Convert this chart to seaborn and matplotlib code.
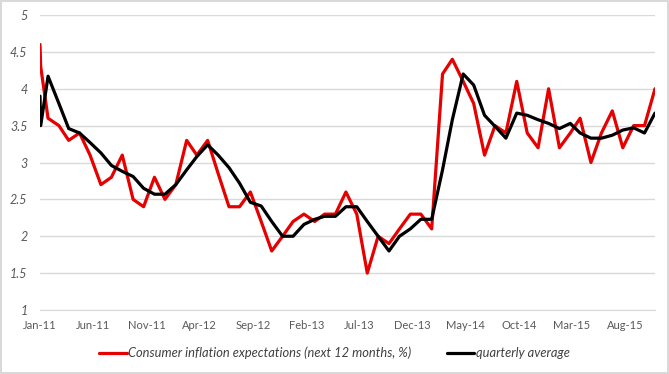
import pandas as pd
import numpy as np
import seaborn as sns
import matplotlib.pyplot as plt
import matplotlib.dates as mdates

# survey dates: two readings at the very start, then one per month
start_dates = ["2011-01-01", "2011-01-03"]
monthly_dates = pd.date_range("2011-01-01", "2015-10-01", freq="MS") + pd.Timedelta(days=23)
dates = pd.to_datetime(start_dates).append(monthly_dates)

# consumer inflation expectations (next 12 months, %)
expectations = [4.6, 4.3,
                3.6, 3.5, 3.3, 3.4, 3.1, 2.7, 2.8, 3.1, 2.5, 2.4, 2.8, 2.5,
                2.7, 3.3, 3.1, 3.3, 2.85, 2.4, 2.4, 2.6, 2.2, 1.8, 2.0, 2.2,
                2.3, 2.2, 2.3, 2.3, 2.6, 2.3, 1.5, 2.0, 1.9, 2.1, 2.3, 2.3,
                2.1, 4.2, 4.4, 4.1, 3.8, 3.1, 3.5, 3.4, 4.1, 3.4, 3.2, 4.0,
                3.2, 3.4, 3.6, 3.0, 3.4, 3.7, 3.2, 3.5, 3.5, 4.0]

# quarterly average
quarterly = [3.9, 3.5,
             4.17, 3.8, 3.46, 3.4, 3.27, 3.13, 2.96, 2.88, 2.81, 2.65, 2.57, 2.57,
             2.7, 2.9, 3.08, 3.24, 3.1, 2.93, 2.72, 2.46, 2.41, 2.2, 2.0, 2.0,
             2.16, 2.23, 2.27, 2.27, 2.4, 2.4, 2.2, 2.0, 1.8, 2.0, 2.1, 2.23,
             2.23, 2.9, 3.58, 4.2, 4.05, 3.64, 3.49, 3.33, 3.67, 3.64, 3.58, 3.53,
             3.46, 3.53, 3.4, 3.33, 3.33, 3.37, 3.44, 3.47, 3.4, 3.67]

tick_dates = pd.date_range("2011-01-01", "2015-08-01", freq="5MS")

df = pd.DataFrame({"date": dates, "exp": expectations, "avg": quarterly})

sns.set_style("white")
plt.rcParams["font.family"] = ["Lato", "DejaVu Sans"]

fig = plt.figure(figsize=(6.69, 3.74), dpi=100)
fig.patch.set_edgecolor("#d9d9d9")
fig.patch.set_linewidth(1.5)
ax = fig.add_axes([40 / 669, 1 - 310 / 374, 615 / 669, 295 / 374])

sns.lineplot(data=df, x="date", y="exp", ax=ax, color="#e60000", linewidth=2.3,
             label="Consumer inflation expectations (next 12 months, %)", legend=False)
sns.lineplot(data=df, x="date", y="avg", ax=ax, color="black", linewidth=2.3,
             label="quarterly average", legend=False)

ax.set_ylim(1, 5)
ax.set_yticks(np.arange(1, 5.01, 0.5))
ax.set_yticklabels([f"{v:g}" for v in np.arange(1, 5.01, 0.5)], fontstyle="italic")
ax.set_xlim(dates[0], dates[-1])
ax.set_xticks(tick_dates)
ax.xaxis.set_major_formatter(mdates.DateFormatter("%b-%y"))
ax.grid(axis="y", color="#d9d9d9", linewidth=1)
ax.set_axisbelow(True)
for s in ["top", "right", "left"]:
    ax.spines[s].set_visible(False)
ax.spines["bottom"].set_color("#d9d9d9")
ax.tick_params(axis="y", length=0, pad=9, labelsize=9, labelcolor="#595959")
ax.tick_params(axis="x", length=4, width=1, color="#d9d9d9", pad=3,
               labelsize=8, labelcolor="#595959")
ax.set_xlabel("")
ax.set_ylabel("")

h, l = ax.get_legend_handles_labels()
leg = fig.legend(h, l, loc="center", bbox_to_anchor=(0.5, 1 - 353 / 374), ncol=2,
                 frameon=False, handlelength=2.1, handletextpad=0.1, columnspacing=2.8,
                 prop={"size": 9.3, "style": "italic"})
for t in leg.get_texts():
    t.set_color("#404040")

fig.savefig("out.png", dpi=100)
